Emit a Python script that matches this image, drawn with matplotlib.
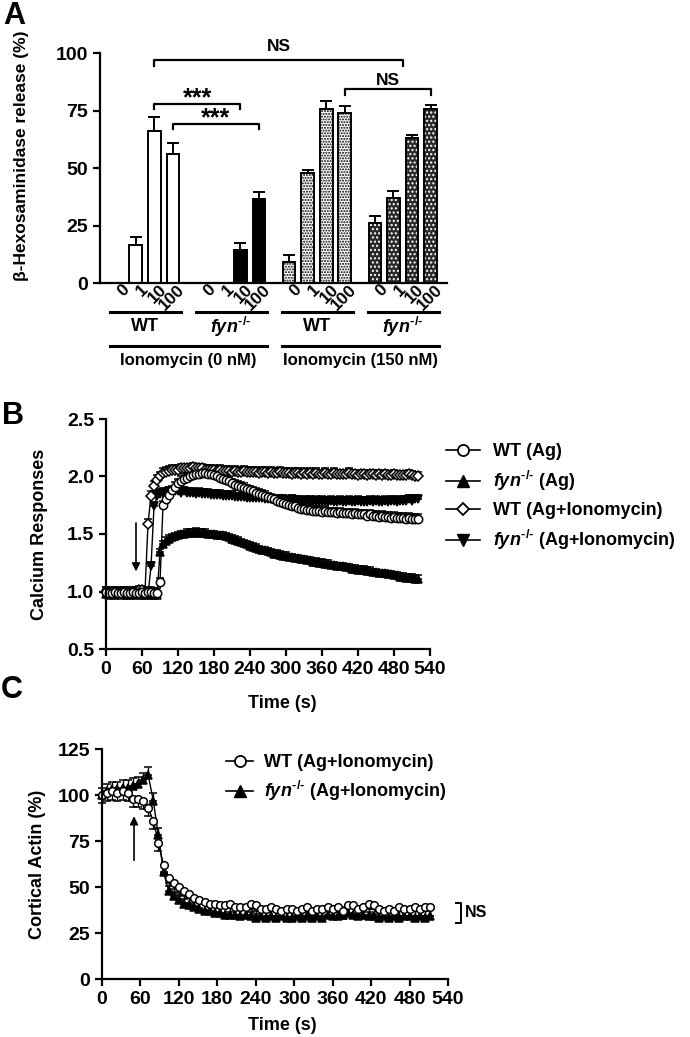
"""
Degranulation, calcium and cortical actin in WT vs fyn-/- cells (three panels)
"""

import numpy as np
import matplotlib
matplotlib.use('Agg')
from matplotlib import pyplot as plt
from matplotlib import transforms
from matplotlib.lines import Line2D

plt.rcParams.update({
    'font.family': ['Liberation Sans', 'DejaVu Sans'],
    'font.weight': 'bold',
    'axes.labelweight': 'bold',
    'mathtext.fontset': 'custom',
    'mathtext.rm': 'Liberation Sans:bold',
    'mathtext.it': 'Liberation Sans:italic:bold',
    'mathtext.bf': 'Liberation Sans:bold',
    'axes.linewidth': 1.6,
    'xtick.major.width': 1.6,
    'ytick.major.width': 1.6,
    'xtick.major.size': 5,
    'ytick.major.size': 5,
    'xtick.labelsize': 14,
    'ytick.labelsize': 14,
    'hatch.linewidth': 1.0,
})

FYN = r'$fyn^{‐/‐}$'  # hyphens (U+2010), not minus signs

# ---- panel A: beta-hexosaminidase release ----
doses = ['0', '1', '10', '100']
group_names = ['WT', FYN, 'WT', FYN]
ionomycin_names = ['Ionomycin (0 nM)', 'Ionomycin (150 nM)']
release_mean = [[0, 16.5, 66, 56],
                [0, 0, 14.5, 36.5],
                [9, 48, 75.5, 74],
                [26, 37, 63, 75.5]]
release_err = [[0, 3.5, 6, 5],
               [0, 0, 3, 3],
               [3, 1, 3.5, 3],
               [3, 3, 1.5, 2]]

# ---- panel B: calcium responses, one point every 5 s ----
calcium_wt_ag = [
    1.00, 0.99, 0.99, 1.00, 0.99, 0.99, 1.00, 0.99, 0.99, 1.00,
    0.99, 0.99, 1.00, 0.99, 1.00, 1.00, 0.99, 0.99, 1.08, 1.75,
    1.80, 1.84, 1.88, 1.91, 1.94, 1.96, 1.98, 1.99, 2.00, 2.01,
    2.02, 2.02, 2.03, 2.03, 2.02, 2.02, 2.01, 2.00, 1.99, 1.98,
    1.97, 1.96, 1.94, 1.93, 1.92, 1.91, 1.90, 1.89, 1.88, 1.87,
    1.86, 1.85, 1.84, 1.83, 1.82, 1.81, 1.80, 1.79, 1.78, 1.77,
    1.76, 1.75, 1.74, 1.74, 1.73, 1.72, 1.72, 1.71, 1.71, 1.70,
    1.70, 1.70, 1.69, 1.70, 1.69, 1.69, 1.69, 1.68, 1.69, 1.68,
    1.68, 1.68, 1.67, 1.68, 1.67, 1.67, 1.67, 1.66, 1.67, 1.66,
    1.66, 1.65, 1.66, 1.65, 1.65, 1.64, 1.65, 1.64, 1.64, 1.64,
    1.63, 1.64, 1.63, 1.63, 1.63]
calcium_fyn_ag = [
    0.98, 0.97, 0.98, 0.97, 0.98, 0.97, 0.98, 0.97, 0.97, 0.98,
    0.97, 0.98, 0.97, 0.97, 0.98, 0.97, 0.97, 0.97, 1.34, 1.41,
    1.44, 1.46, 1.47, 1.48, 1.49, 1.50, 1.50, 1.51, 1.51, 1.51,
    1.52, 1.51, 1.51, 1.51, 1.50, 1.50, 1.50, 1.49, 1.49, 1.49,
    1.48, 1.47, 1.46, 1.45, 1.44, 1.43, 1.42, 1.41, 1.40, 1.39,
    1.38, 1.37, 1.36, 1.36, 1.35, 1.34, 1.33, 1.33, 1.32, 1.31,
    1.31, 1.30, 1.30, 1.29, 1.29, 1.28, 1.28, 1.27, 1.27, 1.26,
    1.26, 1.25, 1.25, 1.24, 1.24, 1.23, 1.23, 1.22, 1.22, 1.22,
    1.21, 1.21, 1.20, 1.20, 1.19, 1.19, 1.19, 1.18, 1.18, 1.17,
    1.17, 1.16, 1.16, 1.16, 1.15, 1.15, 1.14, 1.14, 1.13, 1.13,
    1.12, 1.12, 1.12, 1.11, 1.11]
calcium_wt_iono = [
    1.00, 0.99, 1.00, 0.99, 1.00, 0.99, 1.00, 1.00, 0.99, 1.00,
    1.00, 1.01, 1.01, 1.00, 1.59, 1.83, 1.92, 1.97, 2.00, 2.03,
    2.04, 2.05, 2.06, 2.06, 2.06, 2.07, 2.07, 2.07, 2.07, 2.08,
    2.07, 2.07, 2.07, 2.06, 2.06, 2.06, 2.06, 2.05, 2.06, 2.05,
    2.05, 2.05, 2.04, 2.05, 2.04, 2.04, 2.05, 2.04, 2.04, 2.04,
    2.04, 2.03, 2.04, 2.04, 2.03, 2.04, 2.03, 2.03, 2.04, 2.03,
    2.03, 2.03, 2.02, 2.03, 2.03, 2.02, 2.03, 2.02, 2.03, 2.02,
    2.03, 2.02, 2.02, 2.03, 2.02, 2.02, 2.03, 2.02, 2.02, 2.02,
    2.02, 2.03, 2.02, 2.02, 2.01, 2.02, 2.02, 2.01, 2.02, 2.02,
    2.01, 2.02, 2.01, 2.02, 2.01, 2.01, 2.02, 2.01, 2.01, 2.01,
    2.01, 2.02, 2.01, 2.00, 2.00]
calcium_fyn_iono = [
    0.98, 0.97, 0.98, 0.97, 0.97, 0.98, 0.97, 0.97, 0.98, 0.97,
    0.97, 0.97, 0.98, 0.97, 0.97, 1.22, 1.74, 1.83, 1.85, 1.86,
    1.86, 1.87, 1.87, 1.87, 1.87, 1.86, 1.87, 1.86, 1.86, 1.86,
    1.85, 1.86, 1.85, 1.85, 1.85, 1.84, 1.84, 1.84, 1.84, 1.83,
    1.83, 1.83, 1.83, 1.82, 1.82, 1.82, 1.82, 1.81, 1.81, 1.81,
    1.81, 1.81, 1.81, 1.80, 1.80, 1.80, 1.80, 1.80, 1.79, 1.80,
    1.79, 1.79, 1.80, 1.79, 1.79, 1.79, 1.78, 1.79, 1.79, 1.78,
    1.79, 1.78, 1.79, 1.78, 1.78, 1.79, 1.78, 1.78, 1.79, 1.78,
    1.78, 1.79, 1.78, 1.78, 1.79, 1.78, 1.78, 1.78, 1.79, 1.78,
    1.79, 1.78, 1.78, 1.79, 1.78, 1.79, 1.79, 1.78, 1.79, 1.79,
    1.79, 1.80, 1.79, 1.80, 1.80]
calcium_err = [0.04, 0.03, 0.04, 0.04]
calcium_labels = ['WT (Ag)', FYN + ' (Ag)', 'WT (Ag+Ionomycin)',
                  FYN + ' (Ag+Ionomycin)']

# ---- panel C: cortical actin, one point every 8 s ----
actin_wt = [
    100, 101, 102, 101, 102, 101, 98, 98, 97, 93,
    86, 74, 62, 55, 52, 50, 48, 46, 44, 43,
    42, 41, 41, 40, 40, 41, 39, 39, 39, 41,
    40, 38, 38, 39, 38, 37, 38, 38, 37, 38,
    39, 37, 38, 38, 39, 38, 39, 37, 40, 40,
    38, 39, 41, 40, 38, 37, 38, 37, 39, 38,
    38, 39, 38, 39, 39]
actin_fyn = [
    100, 102, 103, 103, 104, 104, 105, 106, 108, 111,
    97, 78, 58, 48, 45, 43, 41, 40, 39, 38,
    37, 37, 36, 36, 35, 35, 35, 34, 35, 34,
    33, 34, 33, 34, 33, 34, 33, 33, 34, 33,
    34, 33, 34, 33, 35, 34, 34, 35, 36, 35,
    34, 35, 34, 34, 33, 34, 33, 34, 33, 34,
    34, 33, 34, 33, 34]
actin_err = [4.5, 4]
actin_labels = ['WT (Ag+Ionomycin)', FYN + ' (Ag+Ionomycin)']


def fig_xy(fig, x, y):
    W, H = fig.get_size_inches() * fig.dpi
    return x / W, 1 - y / H


def bracket(ax, x1, x2, y, h, text, ty, size):
    ax.plot([x1, x1, x2, x2], [y - h, y, y, y - h], color='k', lw=1.6,
            clip_on=False)
    ax.text((x1 + x2) / 2, ty, text, ha='center', va='center',
            fontsize=size, fontweight='bold')


def plot_release(fig):
    ax = fig.add_axes([100 / 690, 1 - 283 / 1037, 347 / 690, 230 / 1037])
    gap = 4.61
    pos = lambda g, i: g * gap + i
    ticks, labels = [], []
    for g in range(4):
        for i in range(4):
            x = pos(g, i)
            ticks.append(x)
            labels.append(doses[i])
            m = release_mean[g][i]
            if m <= 0:
                continue
            if g == 1:
                ax.bar(x, m, width=0.68, facecolor='k', edgecolor='k',
                       linewidth=1.4)
            elif g == 2:
                ax.bar(x, m, width=0.68, facecolor='white', edgecolor='k',
                       linewidth=1.4, hatch='......')
            elif g == 3:
                ax.bar(x, m, width=0.68, facecolor='#2a2a2a', linewidth=0)
                ax.bar(x, m, width=0.68, facecolor='none', edgecolor='white',
                       linewidth=0, hatch='....')
                ax.bar(x, m, width=0.68, facecolor='none', edgecolor='k',
                       linewidth=1.4)
            else:
                ax.bar(x, m, width=0.68, facecolor='white', edgecolor='k',
                       linewidth=1.4)
            ax.errorbar(x, m, yerr=[[0], [release_err[g][i]]], fmt='none',
                        ecolor='k', elinewidth=1.4, capsize=4, capthick=1.4)

    ax.set_xlim(-0.91, 17.7)
    ax.set_ylim(0, 100)
    ax.set_yticks([0, 25, 50, 75, 100])
    ax.spines[['top', 'right']].set_visible(False)
    ax.set_xticks(ticks, labels)
    ax.tick_params(axis='x', length=0, pad=3, labelsize=12.5)
    offset = transforms.ScaledTranslation(7 / 72, 0, fig.dpi_scale_trans)
    for lbl in ax.get_xticklabels():
        lbl.set_rotation(45)
        lbl.set_ha('right')
        lbl.set_va('center')
        lbl.set_rotation_mode('anchor')
        lbl.set_transform(lbl.get_transform() + offset)

    # significance brackets
    bracket(ax, pos(0, 2), pos(3, 1) + 0.5, 97, 2.6, 'NS', 103, 12.5)
    bracket(ax, pos(0, 2), pos(1, 2), 77.8, 2.0, '***', 80.5, 18)
    bracket(ax, pos(0, 3), pos(1, 3), 69.1, 2.0, '***', 71.8, 18)
    bracket(ax, pos(2, 3), pos(3, 3), 84.3, 2.6, 'NS', 88, 12.5)

    # group annotation lines under the axis
    trans = transforms.blended_transform_factory(ax.transData, ax.transAxes)
    for g in range(4):
        ax.plot([pos(g, 0) - 0.37, pos(g, 3) + 0.43], [-0.126, -0.126],
                color='k', lw=2.2, transform=trans, clip_on=False)
        ax.text((pos(g, 0) + pos(g, 3)) / 2, -0.19, group_names[g],
                transform=trans, ha='center', va='center', fontsize=13)
    for k in range(2):
        x1 = pos(2 * k, 0) - 0.37
        x2 = pos(2 * k + 1, 3) + 0.43
        ax.plot([x1, x2], [-0.274, -0.274], color='k', lw=2.2,
                transform=trans, clip_on=False)
        ax.text((x1 + x2) / 2, -0.335, ionomycin_names[k], transform=trans,
                ha='center', va='center', fontsize=12)

    fig.text(*fig_xy(fig, 22, 156), r'β-Hexosaminidase release (%)',
             rotation=90, ha='center', va='center', fontsize=12.5)
    fig.text(*fig_xy(fig, 14, 16), 'A', ha='center', va='center',
             fontsize=22, fontweight='bold')


def series_plot(ax, t, y, err, marker, filled, ms, up=True):
    y = np.asarray(y, dtype=float)
    e = np.full_like(y, err)
    z = np.zeros_like(y)
    yerr = [z, e] if up else [e, z]
    ax.errorbar(t, y, yerr=yerr, fmt='-', color='k', lw=1.0,
                marker=marker, ms=ms, mfc='k' if filled else 'white',
                mec='k', mew=1.1, elinewidth=1.0, capsize=3, capthick=1.0)


def plot_calcium(fig):
    ax = fig.add_axes([106 / 690, 1 - 649 / 1037, 324 / 690, 230 / 1037])
    series = [(calcium_fyn_iono, 'v', True, 3),
              (calcium_fyn_ag, '^', True, 1),
              (calcium_wt_iono, 'D', False, 2),
              (calcium_wt_ag, 'o', False, 0)]
    for y, marker, filled, k in series:
        t = np.arange(len(y)) * 5
        ms = 4.8 if marker == 'D' else 6
        series_plot(ax, t, y, calcium_err[k], marker, filled, ms)
    for art in ax.get_children():
        art.set_clip_on(False)

    ax.annotate('', xy=(50, 1.15), xytext=(50, 1.62),
                arrowprops=dict(arrowstyle='-|>', color='k', lw=1.2,
                                mutation_scale=12))
    ax.set_xlim(0, 540)
    ax.set_ylim(0.5, 2.5)
    ax.set_xticks(np.arange(0, 541, 60))
    ax.set_yticks([0.5, 1.0, 1.5, 2.0, 2.5])
    ax.yaxis.set_major_formatter('{x:.1f}')
    ax.spines[['top', 'right']].set_visible(False)

    handles = [Line2D([], [], color='k', lw=1.2, marker='o', ms=8,
                      mfc='white', mec='k', mew=1.3),
               Line2D([], [], color='k', lw=1.2, marker='^', ms=8,
                      mfc='k', mec='k'),
               Line2D([], [], color='k', lw=1.2, marker='D', ms=6.5,
                      mfc='white', mec='k', mew=1.3),
               Line2D([], [], color='k', lw=1.2, marker='v', ms=8,
                      mfc='k', mec='k')]
    fig.legend(handles, calcium_labels, loc='upper left',
               bbox_to_anchor=fig_xy(fig, 446, 443), frameon=False,
               fontsize=13, handlelength=1.9, handletextpad=0.7,
               labelspacing=0.5, borderpad=0, borderaxespad=0)

    fig.text(*fig_xy(fig, 40, 534), 'Calcium Responses', rotation=90,
             ha='center', va='center', fontsize=13)
    fig.text(*fig_xy(fig, 282, 703), 'Time (s)', ha='center', va='center',
             fontsize=13)
    fig.text(*fig_xy(fig, 13, 416), 'B', ha='center', va='center',
             fontsize=22, fontweight='bold')


def plot_actin(fig):
    ax = fig.add_axes([102 / 690, 1 - 979 / 1037, 346 / 690, 230 / 1037])
    t = np.arange(len(actin_fyn)) * 8
    series_plot(ax, t, actin_fyn, actin_err[1], '^', True, 5.5, up=True)
    t = np.arange(len(actin_wt)) * 8
    series_plot(ax, t, actin_wt, actin_err[0], 'o', False, 5.5, up=False)
    for art in ax.get_children():
        art.set_clip_on(False)

    ax.annotate('', xy=(50, 90), xytext=(50, 63),
                arrowprops=dict(arrowstyle='-|>', color='k', lw=1.2,
                                mutation_scale=12))
    # NS bracket to the right of the traces
    ax.plot([552, 560, 560, 552], [41.5, 41.5, 30.5, 30.5], color='k',
            lw=1.4, clip_on=False)
    ax.text(566, 36, 'NS', ha='left', va='center', fontsize=11.5)

    ax.set_xlim(0, 540)
    ax.set_ylim(0, 125)
    ax.set_xticks(np.arange(0, 541, 60))
    ax.set_yticks([0, 25, 50, 75, 100, 125])
    ax.spines[['top', 'right']].set_visible(False)

    handles = [Line2D([], [], color='k', lw=1.2, marker='o', ms=8,
                      mfc='white', mec='k', mew=1.3),
               Line2D([], [], color='k', lw=1.2, marker='^', ms=8,
                      mfc='k', mec='k')]
    fig.legend(handles, actin_labels, loc='upper left',
               bbox_to_anchor=fig_xy(fig, 226, 754), frameon=False,
               fontsize=13, handlelength=1.5, handletextpad=0.6,
               labelspacing=0.45, borderpad=0, borderaxespad=0)

    fig.text(*fig_xy(fig, 38, 864), 'Cortical Actin (%)', rotation=90,
             ha='center', va='center', fontsize=13)
    fig.text(*fig_xy(fig, 282, 1025), 'Time (s)', ha='center',
             va='center', fontsize=13)
    fig.text(*fig_xy(fig, 12, 690), 'C', ha='center', va='center',
             fontsize=22, fontweight='bold')


def main():
    fig = plt.figure(figsize=(6.9, 10.37), dpi=100)
    plot_release(fig)
    plot_calcium(fig)
    plot_actin(fig)
    fig.savefig('out.png', dpi=100)


if __name__ == "__main__":
    main()
